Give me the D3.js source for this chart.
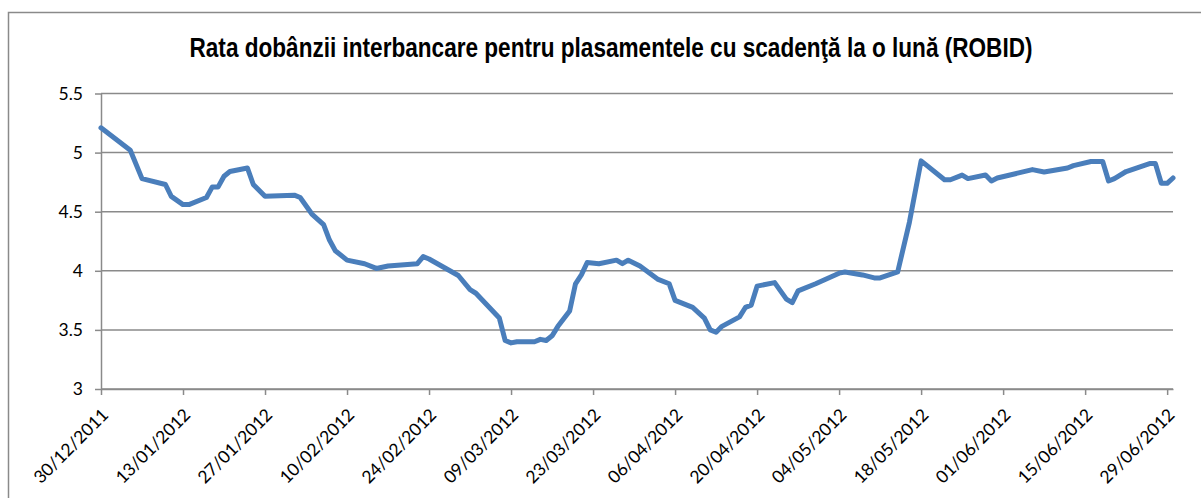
<!DOCTYPE html>
<html>
<head>
<meta charset="utf-8">
<script src="https://cdn.jsdelivr.net/npm/d3@7"></script>
<style>
  body { margin: 0; background: #fff; }
  .axis text { font-family: Lato, "Open Sans", sans-serif; font-size: 17.5px; fill: #000; }
</style>
</head>
<body>
<div id="chart"></div>
<script>
// Chart data
var titleText = "Rata dobânzii interbancare pentru plasamentele cu scadenţă la o lună (ROBID)";

var dates = [
  "30/12/2011", "04/01/2012", "06/01/2012", "10/01/2012", "11/01/2012", "13/01/2012", "14/01/2012",
  "17/01/2012", "18/01/2012", "19/01/2012", "20/01/2012", "21/01/2012", "24/01/2012", "25/01/2012",
  "27/01/2012", "01/02/2012", "02/02/2012", "04/02/2012", "06/02/2012", "07/02/2012", "08/02/2012",
  "10/02/2012", "13/02/2012", "15/02/2012", "17/02/2012", "22/02/2012", "23/02/2012", "24/02/2012",
  "29/02/2012", "02/03/2012", "03/03/2012", "07/03/2012", "08/03/2012", "09/03/2012", "10/03/2012",
  "13/03/2012", "14/03/2012", "15/03/2012", "16/03/2012", "17/03/2012", "19/03/2012", "20/03/2012",
  "21/03/2012", "22/03/2012", "24/03/2012", "27/03/2012", "28/03/2012", "29/03/2012", "31/03/2012",
  "03/04/2012", "05/04/2012", "06/04/2012", "09/04/2012", "11/04/2012", "12/04/2012", "13/04/2012",
  "14/04/2012", "17/04/2012", "18/04/2012", "19/04/2012", "20/04/2012", "23/04/2012", "25/04/2012",
  "26/04/2012", "27/04/2012", "30/04/2012", "04/05/2012", "05/05/2012", "08/05/2012", "10/05/2012",
  "11/05/2012", "14/05/2012", "16/05/2012", "18/05/2012", "22/05/2012", "23/05/2012", "25/05/2012",
  "26/05/2012", "29/05/2012", "30/05/2012", "31/05/2012", "06/06/2012", "08/06/2012", "12/06/2012",
  "13/06/2012", "16/06/2012", "18/06/2012", "19/06/2012", "20/06/2012", "22/06/2012", "26/06/2012",
  "27/06/2012", "28/06/2012", "29/06/2012", "30/06/2012"
];

var values = [
  5.21, 5.02, 4.78, 4.73, 4.63, 4.56, 4.56,
  4.62, 4.71, 4.71, 4.80, 4.84, 4.87, 4.73,
  4.63, 4.64, 4.62, 4.48, 4.39, 4.26, 4.17,
  4.09, 4.06, 4.02, 4.04, 4.06, 4.12, 4.10,
  3.96, 3.84, 3.81, 3.60, 3.41, 3.39, 3.40,
  3.40, 3.42, 3.41, 3.45, 3.53, 3.66, 3.89,
  3.965, 4.07, 4.06, 4.09, 4.06, 4.09, 4.04,
  3.93, 3.89, 3.75, 3.69, 3.60, 3.50, 3.48,
  3.53, 3.61, 3.69, 3.71, 3.87, 3.90, 3.76,
  3.73, 3.83, 3.89, 3.98, 3.99, 3.965, 3.94,
  3.94, 3.99, 4.41, 4.93, 4.77, 4.77, 4.81,
  4.78, 4.81, 4.76, 4.785, 4.856, 4.836, 4.87,
  4.89, 4.925, 4.925, 4.76, 4.78, 4.84, 4.907,
  4.907, 4.74, 4.74, 4.785
];

var yTicks = [3, 3.5, 4, 4.5, 5, 5.5];

var xTickLabels = [
  "30/12/2011", "13/01/2012", "27/01/2012", "10/02/2012", "24/02/2012", "09/03/2012", "23/03/2012",
  "06/04/2012", "20/04/2012", "04/05/2012", "18/05/2012", "01/06/2012", "15/06/2012", "29/06/2012"
];

var xStart = "30/12/2011";
var xEnd = "30/06/2012";

var parseDate = d3.utcParse("%d/%m/%Y");
var formatDate = d3.utcFormat("%d/%m/%Y");

var data = dates.map(function (d, i) {
  return { date: parseDate(d), value: values[i] };
});

// Set up the chart dimensions
var fullWidth = 1201, fullHeight = 498;
var margin = { top: 93.5, right: 28, bottom: 109, left: 101 };
var width = fullWidth - margin.left - margin.right;
var height = fullHeight - margin.top - margin.bottom;

var svg = d3.select("#chart")
  .append("svg")
  .attr("width", fullWidth)
  .attr("height", fullHeight);

// Outer chart border (runs past the right and bottom edges)
svg.append("rect")
  .attr("x", 8.5)
  .attr("y", 12.5)
  .attr("width", 1300)
  .attr("height", 600)
  .attr("fill", "none")
  .attr("stroke", "#8a8a8a")
  .attr("stroke-width", 1.5);

// Title (tall, narrow bold text squeezed to the original width)
svg.append("text")
  .attr("x", 611)
  .attr("y", 57)
  .attr("text-anchor", "middle")
  .attr("textLength", 843)
  .attr("lengthAdjust", "spacingAndGlyphs")
  .style("font-family", "'Liberation Sans', Arial, sans-serif")
  .style("font-weight", "bold")
  .style("font-size", "27px")
  .text(titleText);

var g = svg.append("g")
  .attr("transform", "translate(" + margin.left + "," + margin.top + ")");

// Scales
var xScale = d3.scaleUtc()
  .domain([parseDate(xStart), parseDate(xEnd)])
  .range([0, width]);

var yScale = d3.scaleLinear()
  .domain([3, 5.5])
  .range([height, 0]);

// Gridlines
g.selectAll(".grid")
  .data(yTicks)
  .join("line")
  .attr("class", "grid")
  .attr("x1", 0)
  .attr("x2", width)
  .attr("y1", function (d) { return yScale(d); })
  .attr("y2", function (d) { return yScale(d); })
  .attr("stroke", "#8a8a8a")
  .attr("stroke-width", 1.5);

// Y axis
var yAxis = d3.axisLeft(yScale)
  .tickValues(yTicks)
  .tickFormat(function (d) { return d; })
  .tickSizeInner(6)
  .tickSizeOuter(0)
  .tickPadding(12);

g.append("g")
  .attr("class", "y axis")
  .call(yAxis);

// X axis
var xAxis = d3.axisBottom(xScale)
  .tickValues(xTickLabels.map(parseDate))
  .tickFormat(formatDate)
  .tickSizeInner(6)
  .tickSizeOuter(0);

var xg = g.append("g")
  .attr("class", "x axis")
  .attr("transform", "translate(0," + height + ")")
  .call(xAxis);

// Rotated labels ending just right of each tick
xg.selectAll("text")
  .attr("x", 0)
  .attr("y", 0)
  .attr("dy", 0)
  .attr("text-anchor", "end")
  .attr("transform", "translate(8,27) rotate(-45)");

svg.selectAll(".axis path, .axis line")
  .attr("stroke", "#8a8a8a")
  .attr("stroke-width", 1.5);

// The rate line
var line = d3.line()
  .x(function (d) { return xScale(d.date); })
  .y(function (d) { return yScale(d.value); });

g.append("path")
  .datum(data)
  .attr("fill", "none")
  .attr("stroke", "#4a7ebb")
  .attr("stroke-width", 5)
  .attr("stroke-linejoin", "round")
  .attr("stroke-linecap", "round")
  .attr("d", line);
</script>
</body>
</html>
